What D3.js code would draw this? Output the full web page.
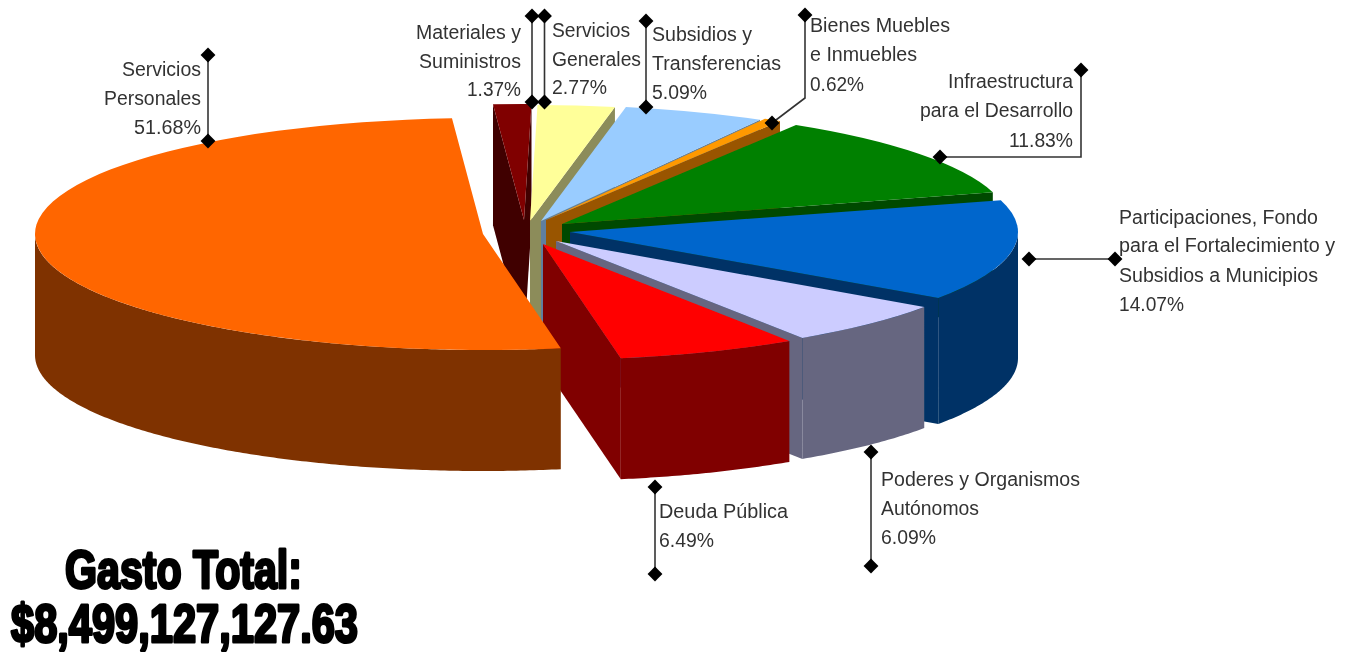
<!DOCTYPE html>
<html>
<head>
<meta charset="utf-8">
<script src="https://cdnjs.cloudflare.com/ajax/libs/d3/7.8.5/d3.min.js"></script>
<style>
    html, body { margin: 0; padding: 0; background: #fff; }
    svg { display: block; }
    .lbl { font-family: "Liberation Sans", Arial, sans-serif; font-size: 19.5px; fill: #333; }
    .big { font-family: "Liberation Sans Narrow", "Liberation Sans", Arial, sans-serif; font-weight: bold; font-size: 53px; fill: #000; stroke: #000; stroke-width: 3px; stroke-linejoin: round; }
</style>
</head>
<body>
<div id="chart"></div>
<script>
// data, in pie order (clockwise from the front)
const categories = ['Servicios Personales', 'Materiales y Suministros', 'Servicios Generales',
    'Subsidios y Transferencias', 'Bienes Muebles e Inmuebles', 'Infraestructura para el Desarrollo',
    'Participaciones, Fondo para el Fortalecimiento y Subsidios a Municipios',
    'Poderes y Organismos Autónomos', 'Deuda Pública'];
const values = [51.68, 1.37, 2.77, 5.09, 0.62, 11.83, 14.07, 6.09, 6.49];
const nameLines = [
    ['Servicios', 'Personales'],
    ['Materiales y', 'Suministros'],
    ['Servicios', 'Generales'],
    ['Subsidios y', 'Transferencias'],
    ['Bienes Muebles', 'e Inmuebles'],
    ['Infraestructura', 'para el Desarrollo'],
    ['Participaciones, Fondo', 'para el Fortalecimiento y', 'Subsidios a Municipios'],
    ['Poderes y Organismos', 'Autónomos'],
    ['Deuda Pública']
];
const totalLines = ['Gasto Total:', '$8,499,127,127.63'];

// colours
const topColors = ['#ff6600', '#800000', '#ffff99', '#99ccff', '#ff9900', '#008000', '#0066cc', '#ccccff', '#ff0000'];
const sideColors = ['#7f3300', '#400000', '#8c8c5a', '#5f7f9f', '#995500', '#004a00', '#003366', '#666680', '#800000'];

// layout: where each exploded slice sits on the page
const w = 1345, h = 654;
const rx = 448, ry = 116;
const sliceCenters = [[483, 234], [524, 220], [530, 221], [541, 221], [546, 220], [562, 224], [570, 232], [556, 241], [543, 244]];
const sliceDepths = [121, 121, 121, 121, 121, 121, 126, 121, 121];

// label layout: anchor, x, baseline of each line, width of each line
const labelPos = [
    { anchor: 'end', x: 201, y: [76, 105, 134], len: [79, 97, 67] },
    { anchor: 'end', x: 521, y: [39, 68, 96], len: [105, 102, 54] },
    { anchor: 'start', x: 552, y: [37, 66, 94], len: [78, 89, 55] },
    { anchor: 'start', x: 652, y: [41, 70, 99], len: [100, 129, 55] },
    { anchor: 'start', x: 810, y: [32, 61, 91], len: [140, 107, 54] },
    { anchor: 'end', x: 1073, y: [88, 117, 147], len: [125, 153, 64] },
    { anchor: 'start', x: 1119, y: [224, 252, 282, 311], len: [199, 216, 199, 65] },
    { anchor: 'start', x: 881, y: [486, 515, 544], len: [199, 98, 55] },
    { anchor: 'start', x: 659, y: [518, 547], len: [129, 55] }
];
const leaders = [
    [[208, 55], [208, 141]],
    [[532, 16], [532, 102]],
    [[544.5, 16], [544.5, 102]],
    [[646, 21], [646, 107]],
    [[805, 15], [805, 98], [772, 123]],
    [[1081, 70], [1081, 157], [940, 157]],
    [[1029, 259], [1115, 259]],
    [[871, 452], [871, 566]],
    [[655, 487], [655, 574]]
];

const svg = d3.select('#chart')
    .append('svg')
    .attr('width', w)
    .attr('height', h);

const defs = svg.append('defs');
defs.append('filter').attr('id', 'soft')
    .append('feGaussianBlur').attr('stdDeviation', 0.45);

const root = svg.append('g').attr('filter', 'url(#soft)');

const pie = d3.pie()
    .sort(null)
    .startAngle(170 * Math.PI / 180)
    .endAngle(530 * Math.PI / 180);
const arc = d3.arc().innerRadius(0).outerRadius(rx);
const line = d3.line();

// a point on the rim of slice i at angle a (0 at the top, clockwise)
function rim (i, a) {
    const c = sliceCenters[i];
    return [c[0] + rx * Math.sin(a), c[1] - ry * Math.cos(a)];
}

function extrude (pts, depth) {
    const lower = pts.map((p) => [p[0], p[1] + depth]).reverse();
    return line(pts.concat(lower)) + 'Z';
}

const arcs = pie(values).map((d, i) => Object.assign({}, d, { i: i }));

// back to front, the big orange slice last
const order = arcs.slice(1).concat(arcs[0]);

order.forEach((d) => {
    const g = root.append('g');
    const c = sliceCenters[d.i];
    const depth = sliceDepths[d.i];

    // cut faces that look at the viewer
    if (Math.sin(d.startAngle) < 0) {
        g.append('path')
            .attr('d', extrude([c, rim(d.i, d.startAngle)], depth))
            .attr('fill', sideColors[d.i]);
    }
    if (Math.sin(d.endAngle) > 0) {
        g.append('path')
            .attr('d', extrude([c, rim(d.i, d.endAngle)], depth))
            .attr('fill', sideColors[d.i]);
    }

    // outer wall, front half of the rim only
    const tau = 2 * Math.PI;
    const a0 = Math.max(d.startAngle % tau, Math.PI / 2);
    const span = d.endAngle - d.startAngle;
    const a1 = Math.min((d.startAngle % tau) + span, 1.5 * Math.PI);
    if (a1 > a0) {
        const pts = d3.range(a0, a1, 0.01).concat(a1).map((a) => rim(d.i, a));
        g.append('path')
            .attr('d', extrude(pts, depth))
            .attr('fill', sideColors[d.i]);
    }

    // top
    g.append('path')
        .attr('d', arc(d))
        .attr('transform', `translate(${c[0]}, ${c[1]}) scale(1, ${ry / rx})`)
        .attr('fill', topColors[d.i]);
});

// leader lines with a diamond at both ends
const diamond = d3.symbol().type(d3.symbolSquare).size(110);
leaders.forEach((pts) => {
    root.append('path')
        .attr('d', line(pts))
        .attr('fill', 'none')
        .attr('stroke', '#333')
        .attr('stroke-width', 1.6);
    [pts[0], pts[pts.length - 1]].forEach((p) => {
        root.append('path')
            .attr('d', diamond())
            .attr('transform', `translate(${p[0]}, ${p[1]}) rotate(45)`)
            .attr('fill', '#000');
    });
});

// labels: name lines then the percentage
labelPos.forEach((pos, i) => {
    const lines = nameLines[i].concat(values[i].toFixed(2) + '%');
    lines.forEach((t, k) => {
        root.append('text')
            .attr('class', 'lbl')
            .attr('x', pos.x)
            .attr('y', pos.y[k])
            .attr('text-anchor', pos.anchor)
            .attr('textLength', pos.len[k])
            .attr('lengthAdjust', 'spacingAndGlyphs')
            .text(t);
    });
});

// total
root.append('text').attr('class', 'big')
    .attr('x', 65).attr('y', 588)
    .attr('textLength', 237).attr('lengthAdjust', 'spacingAndGlyphs')
    .text(totalLines[0]);
root.append('text').attr('class', 'big')
    .attr('x', 11).attr('y', 642)
    .attr('textLength', 347).attr('lengthAdjust', 'spacingAndGlyphs')
    .text(totalLines[1]);
</script>
</body>
</html>
